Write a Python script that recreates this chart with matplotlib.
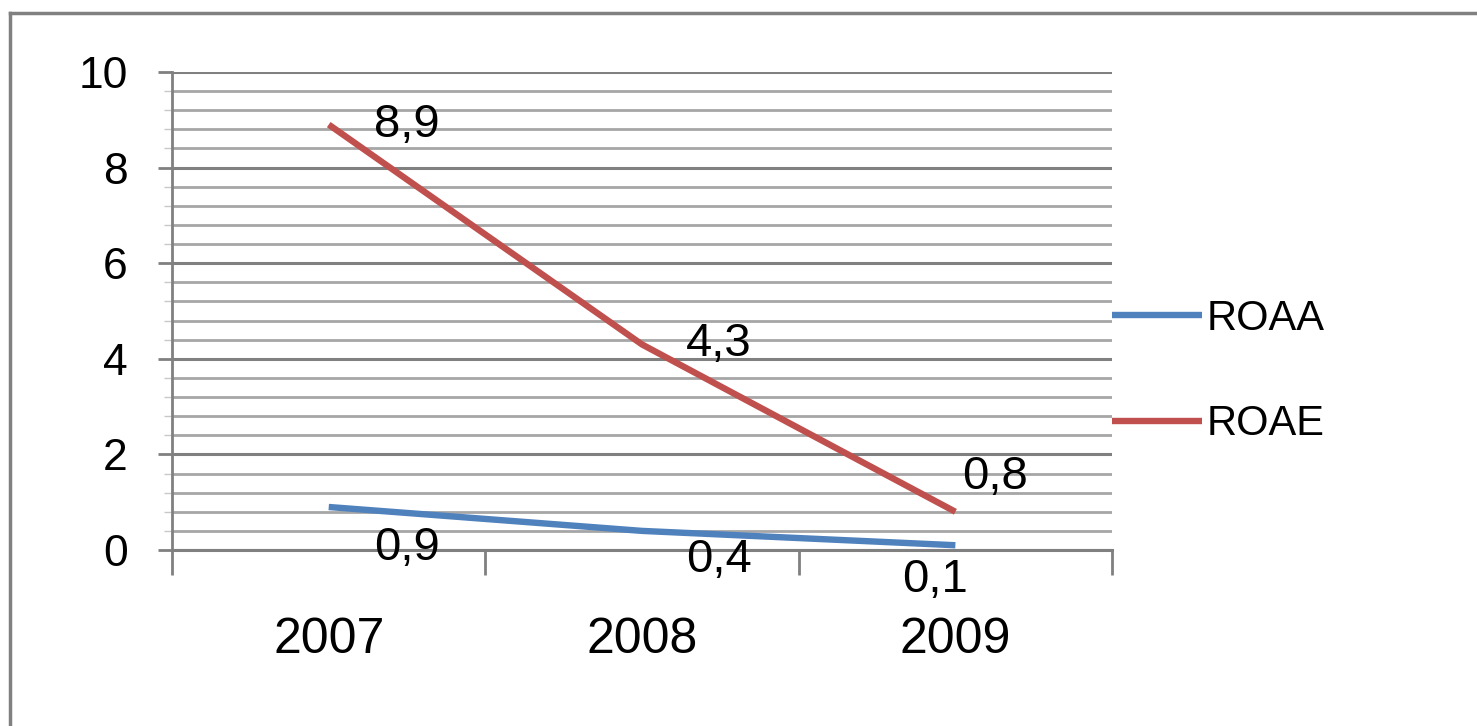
import matplotlib
matplotlib.use('Agg')
import matplotlib.pyplot as plt
from matplotlib.lines import Line2D
from matplotlib.ticker import MultipleLocator

years = ['2007', '2008', '2009']
roaa = [0.9, 0.4, 0.1]
roae = [8.9, 4.3, 0.8]
roaa_labels = ['0,9', '0,4', '0,1']
roae_labels = ['8,9', '4,3', '0,8']

plt.rcParams['font.family'] = ['Liberation Sans', 'DejaVu Sans']

fig = plt.figure(figsize=(14.77, 7.26), dpi=100)
ax = fig.add_axes([0.1165, 0.2424, 0.6364, 0.6584])

x = list(range(len(years)))
ax.plot(x, roaa, color='#4f81bd', lw=4.6, solid_capstyle='butt', label='ROAA', zorder=3)
ax.plot(x, roae, color='#c0504d', lw=4.6, solid_capstyle='butt', label='ROAE', zorder=3)

# label offsets in pixels
roae_off = [(78, 0), (77, 0), (40, 35)]
roaa_off = [(78, -41), (77, -29), (-20, -35)]
for i in x:
    ax.annotate(roae_labels[i], (i, roae[i]), xytext=roae_off[i], textcoords='offset pixels',
                ha='center', va='center', fontsize=34, zorder=4)
    ax.annotate(roaa_labels[i], (i, roaa[i]), xytext=roaa_off[i], textcoords='offset pixels',
                ha='center', va='center', fontsize=34, zorder=4)

ax.set_xlim(-0.5, 2.5)
ax.set_ylim(0, 10)
ax.yaxis.set_major_locator(MultipleLocator(2))
ax.yaxis.set_minor_locator(MultipleLocator(0.4))
ax.set_xticks([-0.5, 0.5, 1.5, 2.5])
ax.set_xticklabels([])
ax.set_xticks(x, minor=True)
ax.set_xticklabels(years, minor=True, fontsize=36)

ax.grid(axis='y', which='major', color='#808080', lw=2.2, zorder=1)
ax.grid(axis='y', which='minor', color='#a6a6a6', lw=2.0, zorder=1)

for s in ['top', 'right']:
    ax.spines[s].set_visible(False)
ax.spines['left'].set_color('#808080')
ax.spines['left'].set_linewidth(2)
ax.spines['bottom'].set_color('#808080')
ax.spines['bottom'].set_linewidth(2.2)

ax.tick_params(axis='y', which='major', length=10, width=2, color='#808080', labelsize=32, pad=22)
ax.tick_params(axis='y', which='minor', length=6, width=1, color='#c8c8c8')
ax.tick_params(axis='x', which='major', length=18, width=2, color='#808080', direction='out')
ax.tick_params(axis='x', which='minor', length=0, pad=48)

leg = fig.legend(loc='center left', bbox_to_anchor=(0.7275, 0.488), frameon=False,
                 prop={'size': 30}, handlelength=2.15, handletextpad=0.12, labelspacing=1.57)

# outer border (top and left only visible)
fig.add_artist(Line2D([0.0068, 1.0], [0.982, 0.982], transform=fig.transFigure, color='#808080', lw=2.5))
fig.add_artist(Line2D([0.0068, 0.0068], [0.0, 0.982], transform=fig.transFigure, color='#808080', lw=2.5))

fig.savefig('out.png', dpi=100)
